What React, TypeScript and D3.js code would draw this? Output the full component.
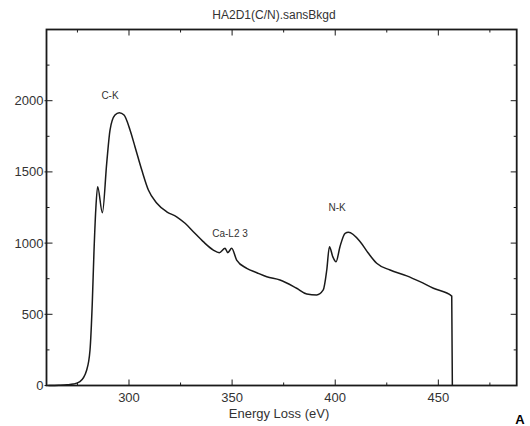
import React from "react";
import * as d3 from "d3";

// spectrum (eV, counts)
const energy = [
  261, 266, 270, 273, 276.2, 279.5, 281.1, 282.2, 283, 283.9, 284.8,
  287.1, 289.2, 290.8, 293.2, 295.3, 297.6, 300.5, 302.9, 306.2, 309.4,
  313.4, 318.3, 323.1, 327.2, 331.2, 336, 340.9, 343.8, 346.6, 347.9, 349.8,
  352.2, 357.1, 362, 366.8, 373.2, 381.3, 386.2, 391, 394.2, 395.9, 397.2,
  398.8, 400.4, 402.3, 404.8, 406.4, 412.1, 416, 420.1, 426.6, 434.7,
  441.1, 447.6, 456.5, 456.8,
];
const counts = [
  0, 2, 5, 10, 27, 109, 249, 579, 930, 1236, 1396, 1213, 1562, 1794,
  1899, 1916, 1899, 1794, 1677, 1513, 1373, 1282, 1220, 1185, 1139, 1080,
  1010, 951, 933, 963, 933, 963, 881, 823, 792, 764, 741, 683, 643, 636, 671,
  811, 975, 905, 869, 975, 1069, 1076, 1010, 930, 858, 811, 770, 729, 683,
  628, 0,
];

const xTicks = [300, 350, 400, 450];
const xMinor = [275, 325, 375, 425, 475];
const yTicks = [0, 500, 1000, 1500, 2000];
const yMinor = [250, 750, 1250, 1750, 2250];

const peakLabels = [
  { text: "C-K", e: 290.8, v: 2010 },
  { text: "Ca-L2 3", e: 349, v: 1043 },
  { text: "N-K", e: 400.9, v: 1226 },
];

const title = "HA2D1(C/N).sansBkgd";
const xLabel = "Energy Loss (eV)";

export default function App() {
  const W = 530;
  const H = 426;
  const left = 46.5;
  const right = 516.7;
  const top = 29.5;
  const bottom = 385.5;

  const x = d3.scaleLinear().domain([260, 488]).range([left, right]);
  const y = d3.scaleLinear().domain([0, 2500]).range([bottom, top]);

  const pts = energy.map((e, i) => [e, counts[i]] as [number, number]);
  const line = d3
    .line<[number, number]>()
    .x((d) => x(d[0]))
    .y((d) => y(d[1]))
    .curve(d3.curveMonotoneX);

  const ink = "#1a1a1a";
  const txt = "#333";
  const font = "Liberation Sans, Arial, sans-serif";

  return (
    <svg
      width={W}
      height={H}
      style={{ position: "absolute", left: 0, top: 0, background: "#fff" }}
      fontFamily={font}
    >
      <rect x={0} y={0} width={W} height={H} fill="#fff" />
      <text x={274} y={19} textAnchor="middle" fontSize={12} fill={txt}>
        {title}
      </text>

      {/* ticks on all four sides, pointing in */}
      {xTicks.map((t) => (
        <g key={"x" + t}>
          <line x1={x(t)} x2={x(t)} y1={bottom} y2={bottom - 6} stroke={ink} />
          <line x1={x(t)} x2={x(t)} y1={top} y2={top + 6} stroke={ink} />
          <text x={x(t)} y={402} textAnchor="middle" fontSize={13} fill={txt}>
            {t}
          </text>
        </g>
      ))}
      {xMinor.map((t) => (
        <g key={"xm" + t}>
          <line x1={x(t)} x2={x(t)} y1={bottom} y2={bottom - 3} stroke={ink} />
          <line x1={x(t)} x2={x(t)} y1={top} y2={top + 3} stroke={ink} />
        </g>
      ))}
      {yTicks.map((t) => (
        <g key={"y" + t}>
          <line x1={left - 2} x2={left + 6} y1={y(t)} y2={y(t)} stroke={ink} />
          <line x1={right} x2={right - 6} y1={y(t)} y2={y(t)} stroke={ink} />
          <text
            x={left - 3}
            y={y(t)}
            dy="0.35em"
            textAnchor="end"
            fontSize={13}
            fill={txt}
          >
            {t}
          </text>
        </g>
      ))}
      {yMinor.map((t) => (
        <g key={"ym" + t}>
          <line x1={left} x2={left + 3} y1={y(t)} y2={y(t)} stroke={ink} />
          <line x1={right} x2={right - 3} y1={y(t)} y2={y(t)} stroke={ink} />
        </g>
      ))}

      <rect
        x={left}
        y={top}
        width={right - left}
        height={bottom - top}
        fill="none"
        stroke={ink}
        strokeWidth={1.8}
      />

      <path d={line(pts) ?? ""} fill="none" stroke={ink} strokeWidth={1.5} />

      {peakLabels.map((p) => (
        <text
          key={p.text}
          x={x(p.e)}
          y={y(p.v)}
          textAnchor="middle"
          fontSize={10}
          fill={txt}
        >
          {p.text}
        </text>
      ))}

      <text x={279} y={418} textAnchor="middle" fontSize={13} fill={txt}>
        {xLabel}
      </text>
      <text x={520} y={424} textAnchor="middle" fontSize={13} fontWeight="bold" fill="#000">
        A
      </text>
    </svg>
  );
}
